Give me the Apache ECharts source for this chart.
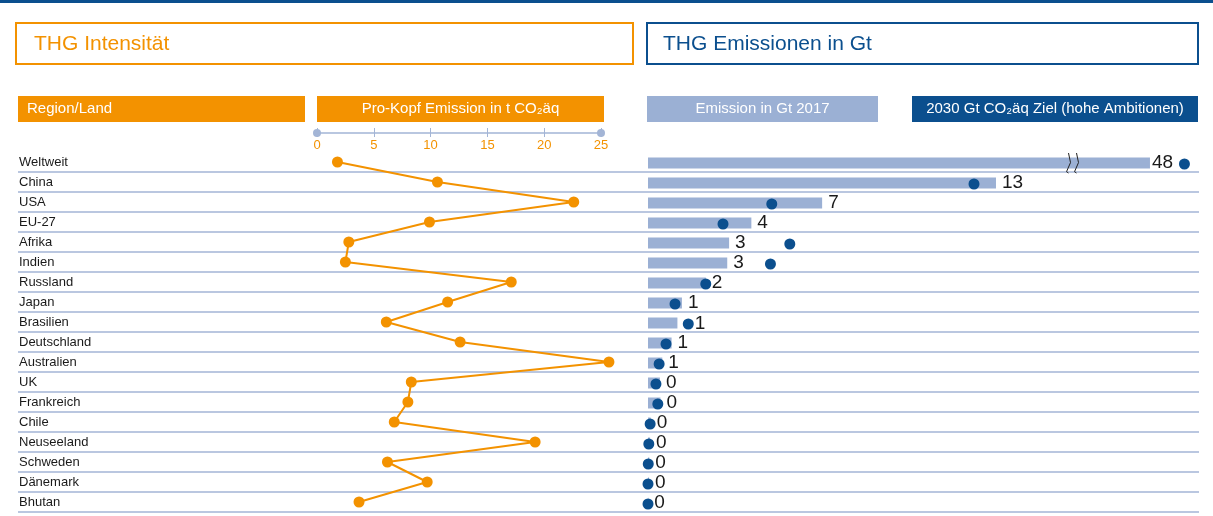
<!DOCTYPE html>
<html>
<head>
<meta charset="utf-8">
<script src="https://cdn.jsdelivr.net/npm/echarts@6/dist/echarts.min.js"></script>
<style>
  html, body { margin: 0; padding: 0; background: #fff; }
  #chart { width: 1213px; height: 516px; }
</style>
</head>
<body>
<div id="chart"></div>
<script>
// Region / Land
const regions = ['Weltweit', 'China', 'USA', 'EU-27', 'Afrika', 'Indien', 'Russland', 'Japan', 'Brasilien',
  'Deutschland', 'Australien', 'UK', 'Frankreich', 'Chile', 'Neuseeland', 'Schweden', 'Dänemark', 'Bhutan']
// Pro-Kopf Emission in t CO2äq
const perCapita = [1.8, 10.6, 22.6, 9.9, 2.8, 2.5, 17.1, 11.5, 6.1, 12.6, 25.7, 8.3, 8.0, 6.8, 19.2, 6.2, 9.7, 3.7]
const perCapitaTicks = [0, 5, 10, 15, 20, 25]
// Emission in Gt 2017
const emission2017 = [48, 13.13, 6.57, 3.9, 3.06, 2.99, 2.18, 1.28, 1.11, 0.89, 0.54, 0.45, 0.47, 0.1, 0.08, 0.05, 0.04, 0.01]
// 2030 Gt CO2äq Ziel (hohe Ambitionen)
const target2030 = [49.3, 12.3, 4.67, 2.83, 5.35, 4.62, 2.18, 1.02, 1.52, 0.68, 0.42, 0.30, 0.37, 0.08, 0.03, 0.01, 0, 0]

const FONT = '"Liberation Sans", Arial, sans-serif'
const ORANGE = '#f39200'
const BLUE = '#0b4f8e'
const LIGHTBLUE = '#9bb0d4'
const LINE = '#a3b5d6'

const chart = echarts.init(document.getElementById('chart'), null, { renderer: 'canvas' })

// label sitzt hinter dem Punkt, wenn der Punkt knapp rechts vom Balken liegt
const labelOnDot = emission2017.map((v, i) => target2030[i] > v && target2030[i] - v < 1)

const barItems = emission2017.slice(1).map((v, i) => ({
  value: v,
  label: { show: !labelOnDot[i + 1] }
}))
const dotItems = target2030.slice(1).map((v, i) => ({
  value: [v, i],
  label: labelOnDot[i + 1]
    ? { show: true, position: 'right', distance: 1, formatter: String(Math.round(emission2017[i + 1])) }
    : { show: false }
}))

const valueLabel = { color: '#1a1a1a', fontSize: 19, fontFamily: FONT }

const headerBand = (x, w, color, text, align) => [
  { type: 'rect', shape: { x: x, y: 96, width: w, height: 26 }, style: { fill: color } },
  {
    type: 'text', x: align === 'left' ? x + 9 : x + w / 2, y: 109,
    style: { text: text, fill: '#fff', font: '15px ' + FONT, align: align, verticalAlign: 'middle' }
  }
]

const option = {
  animation: false,
  backgroundColor: '#fff',
  graphic: [
    { type: 'rect', shape: { x: 0, y: 0, width: 1213, height: 3 }, style: { fill: BLUE } },
    { type: 'rect', shape: { x: 16, y: 23, width: 617, height: 41 }, style: { fill: '#fff', stroke: ORANGE, lineWidth: 2 } },
    { type: 'text', x: 34, y: 44, style: { text: 'THG Intensität', fill: ORANGE, font: '21px ' + FONT, verticalAlign: 'middle' } },
    { type: 'rect', shape: { x: 647, y: 23, width: 551, height: 41 }, style: { fill: '#fff', stroke: BLUE, lineWidth: 2 } },
    { type: 'text', x: 663, y: 44, style: { text: 'THG Emissionen in Gt', fill: BLUE, font: '21px ' + FONT, verticalAlign: 'middle' } },
    ...headerBand(18, 287, ORANGE, 'Region/Land', 'left'),
    ...headerBand(317, 287, ORANGE, 'Pro-Kopf Emission in t CO₂äq', 'center'),
    ...headerBand(647, 231, LIGHTBLUE, 'Emission in Gt 2017', 'center'),
    ...headerBand(912, 286, BLUE, '2030 Gt CO₂äq Ziel (hohe Ambitionen)', 'center')
  ],
  grid: [
    // 0: Zeilen + Beschriftung
    { left: 18, right: 14, top: 152, height: 360, outerBoundsMode: 'none' },
    // 1: Pro-Kopf Linie
    { left: 317, right: 612, top: 152, height: 360, outerBoundsMode: 'none' },
    // 2: Balken ohne Weltweit
    { left: 648, right: 14, top: 173, height: 340, outerBoundsMode: 'none' },
    // 3: Balken Weltweit (mit Achsenbruch)
    { left: 648, right: 14, top: 153, height: 20, outerBoundsMode: 'none' }
  ],
  xAxis: [
    { gridIndex: 0, type: 'value', show: false },
    {
      gridIndex: 1, type: 'value', position: 'top', offset: 19,
      min: perCapitaTicks[0], max: perCapitaTicks[perCapitaTicks.length - 1],
      interval: perCapitaTicks[1] - perCapitaTicks[0],
      axisLine: { show: true, symbol: ['circle', 'circle'], symbolSize: [8, 8], lineStyle: { color: LINE, width: 1.5 } },
      axisTick: { show: true, length: 5, lineStyle: { color: LINE, width: 1 } },
      axisLabel: { inside: true, margin: 6, color: ORANGE, fontSize: 13, fontFamily: FONT },
      splitLine: { show: false }
    },
    {
      gridIndex: 1, type: 'value', position: 'top', offset: 19,
      min: perCapitaTicks[0], max: perCapitaTicks[perCapitaTicks.length - 1],
      interval: perCapitaTicks[1] - perCapitaTicks[0],
      axisLine: { show: false },
      axisTick: { show: true, inside: true, length: 4, lineStyle: { color: LINE, width: 1 } },
      axisLabel: { show: false },
      splitLine: { show: false }
    },
    { gridIndex: 2, type: 'value', min: 0, max: 20.79, show: false },
    {
      gridIndex: 3, type: 'value', min: 0, max: 49.85, z: 10,
      breaks: [{ start: 15.85, end: 45.21, gap: 0.3 }],
      breakArea: {
        show: true,
        itemStyle: { color: 'rgba(255,255,255,0)', borderColor: '#222', borderWidth: 1, borderType: 'solid', opacity: 1 },
        zigzagAmplitude: 2, zigzagMinSpan: 6, zigzagMaxSpan: 10, zigzagZ: 100, expandOnClick: false
      },
      axisLine: { show: false }, axisTick: { show: false }, axisLabel: { show: false }, splitLine: { show: false }
    }
  ],
  yAxis: [
    {
      gridIndex: 0, type: 'category', inverse: true, data: regions,
      axisLine: { show: false }, axisTick: { show: false },
      axisLabel: { inside: true, margin: 1, interval: 0, color: '#1a1a1a', fontSize: 13, fontFamily: FONT },
      splitLine: { show: true, interval: (idx) => idx !== 0, lineStyle: { color: LINE, width: 1.5 } }
    },
    { gridIndex: 1, type: 'category', inverse: true, data: regions, show: false },
    { gridIndex: 2, type: 'category', inverse: true, data: regions.slice(1), show: false },
    { gridIndex: 3, type: 'category', inverse: true, data: regions.slice(0, 1), show: false }
  ],
  series: [
    {
      type: 'line', xAxisIndex: 1, yAxisIndex: 1, data: perCapita, clip: false,
      symbol: 'circle', symbolSize: 11, color: ORANGE,
      lineStyle: { color: ORANGE, width: 2 }, itemStyle: { color: ORANGE }
    },
    {
      type: 'bar', xAxisIndex: 3, yAxisIndex: 2, data: barItems, barWidth: 11,
      itemStyle: { color: LIGHTBLUE },
      label: Object.assign({ show: true, position: 'right', distance: 6, formatter: (p) => Math.round(p.value) }, valueLabel)
    },
    {
      type: 'scatter', xAxisIndex: 3, yAxisIndex: 2, data: dotItems, symbolSize: 11, symbolOffset: [0, 1], z: 3,
      itemStyle: { color: BLUE, opacity: 1 }, label: valueLabel
    },
    {
      type: 'bar', xAxisIndex: 4, yAxisIndex: 3, data: emission2017.slice(0, 1), barWidth: 11, z: 1,
      itemStyle: { color: LIGHTBLUE },
      label: Object.assign({ show: true, position: 'right', distance: 2, formatter: (p) => Math.round(p.value) }, valueLabel)
    },
    {
      type: 'scatter', xAxisIndex: 4, yAxisIndex: 3, data: [[target2030[0], 0]], symbolSize: 11, symbolOffset: [0, 1], z: 3,
      itemStyle: { color: BLUE, opacity: 1 }
    }
  ]
}

chart.setOption(option)
</script>
</body>
</html>
